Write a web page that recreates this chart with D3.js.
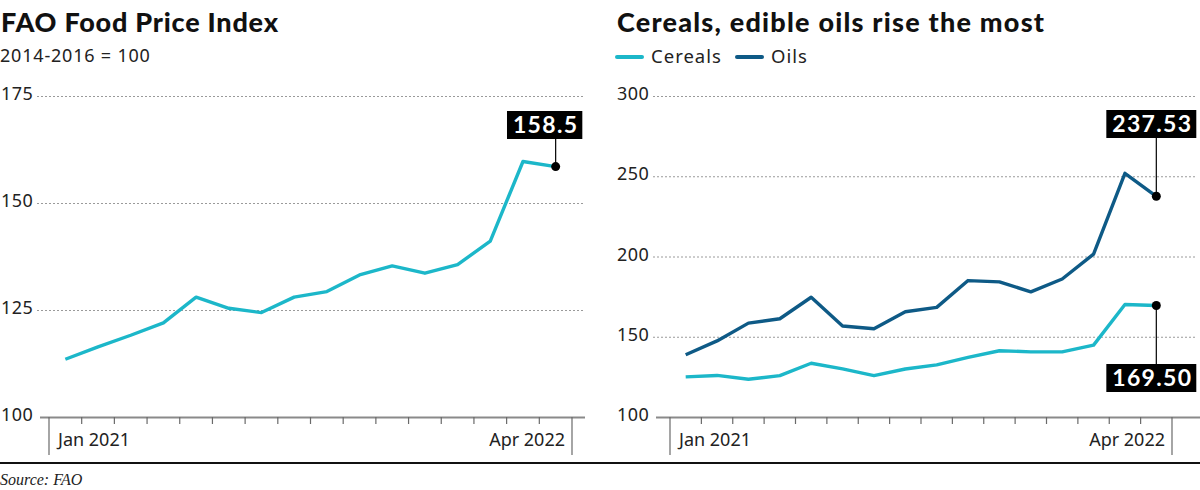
<!DOCTYPE html>
<html>
<head>
<meta charset="utf-8">
<script src="https://cdn.jsdelivr.net/npm/d3@7"></script>
<style>
  body { margin: 0; background: #fff; }
  svg { display: block; }
  .title { font-family: Lato, sans-serif; font-weight: 900; font-size: 27px; fill: #111; }
  .sub { font-family: "Noto Sans", sans-serif; font-size: 18px; fill: #222; letter-spacing: 0.8px; }
  .legend { font-family: "Noto Sans", sans-serif; font-size: 18.5px; fill: #222; letter-spacing: 1px; }
  .ylab { font-family: "Noto Sans", sans-serif; font-size: 18px; fill: #222; letter-spacing: 0.5px; }
  .xlab { font-family: "Noto Sans", sans-serif; font-size: 18px; fill: #222; }
  .grid { stroke: #9a9a9a; stroke-width: 1; stroke-dasharray: 2,2; }
  .callout { font-family: Lato, sans-serif; font-weight: 700; font-size: 23px; fill: #fff; letter-spacing: 1.3px; }
  .source { font-family: "Liberation Serif", serif; font-style: italic; font-size: 16px; fill: #222; }
</style>
</head>
<body>
<div id="content"></div>
<script>
/*
    Chart data
*/
var months = ["Jan 2021", "Feb 2021", "Mar 2021", "Apr 2021", "May 2021", "Jun 2021",
              "Jul 2021", "Aug 2021", "Sep 2021", "Oct 2021", "Nov 2021", "Dec 2021",
              "Jan 2022", "Feb 2022", "Mar 2022", "Apr 2022"];
var foodIndex = [113.5, 116.4, 119.1, 122.0, 128.0, 125.4, 124.4, 128.0, 129.3, 133.2,
                 135.3, 133.6, 135.6, 141.1, 159.7, 158.5];
var cereals = [125.0, 125.9, 123.5, 125.8, 133.5, 130.0, 125.8, 129.9, 132.5, 137.1,
               141.3, 140.6, 140.6, 144.8, 170.1, 169.5];
var oils = [138.8, 147.4, 158.5, 161.2, 174.6, 156.7, 155.0, 165.6, 168.3, 185.0,
            184.2, 178.0, 186.0, 201.5, 251.8, 237.53];
var leftTicks = [100, 125, 150, 175];
var rightTicks = [100, 150, 200, 250, 300];
var edgeLabels = ["Jan 2021", "Apr 2022"];

var cyan = "#1cb7c9",
    navy = "#0e5a86";

var W = 1200, H = 490;
var svg = d3.select("#content").append("svg")
    .attr("width", W)
    .attr("height", H);

/*
    One panel: y grid, x axis with month ticks, lines and callouts
*/
function drawPanel(p) {
    var x = d3.scaleBand().domain(months).range(p.xRange).padding(0);
    var y = d3.scaleLinear().domain(p.yDomain).range([417, 96]);
    var g = svg.append("g");

    // grid + labels
    p.yTicks.forEach(function (t) {
        if (t != p.yDomain[0]) {
            g.append("line").attr("class", "grid")
                .attr("x1", p.gridX[0]).attr("x2", p.gridX[1])
                .attr("y1", y(t) + 0.5).attr("y2", y(t) + 0.5);
        }
        g.append("text").attr("class", "ylab")
            .attr("x", p.labelX).attr("y", y(t) + 4)
            .text(t);
    });

    // x axis baseline
    g.append("line")
        .attr("x1", p.gridX[0] + 3).attr("x2", p.axisEnd)
        .attr("y1", y(p.yDomain[0]) + 0.5).attr("y2", y(p.yDomain[0]) + 0.5)
        .attr("stroke", "#8a8a8a").attr("stroke-width", 2);

    var bounds = months.map(function (m) { return x(m); }).concat([p.xRange[1]]);
    g.selectAll(".tk").data(bounds).enter().append("line")
        .attr("x1", function (d) { return d; })
        .attr("x2", function (d) { return d; })
        .attr("y1", 417)
        .attr("y2", function (d, i) { return (i == 0 || i == bounds.length - 1) ? 455 : 424; })
        .attr("stroke", "#6a6a6a").attr("stroke-width", 1.2);

    g.append("text").attr("class", "xlab")
        .attr("x", p.xRange[0] + 9).attr("y", 446)
        .text(edgeLabels[0]);
    g.append("text").attr("class", "xlab")
        .attr("x", p.xRange[1] - 7).attr("y", 446)
        .attr("text-anchor", "end")
        .text(edgeLabels[1]);

    var cx = function (d, i) { return x(months[i]) + x.bandwidth() / 2; };
    var line = d3.line()
        .x(cx)
        .y(function (d) { return y(d); });

    p.series.forEach(function (s) {
        g.append("path").datum(s.values)
            .attr("fill", "none")
            .attr("stroke", s.color)
            .attr("stroke-width", 3.4)
            .attr("stroke-linejoin", "round")
            .attr("d", line);
    });

    // callouts at the last point
    p.callouts.forEach(function (c) {
        var last = c.values.length - 1;
        var px = cx(c.values[last], last), py = y(c.values[last]);
        var box = g.append("rect").attr("fill", "#000");
        var t = g.append("text").attr("class", "callout")
            .attr("text-anchor", "middle")
            .attr("x", px + c.dx)
            .attr("y", c.boxY + 22)
            .text(c.label);
        var bb = t.node().getBBox();
        box.attr("x", bb.x - 6).attr("width", bb.width + 10)
            .attr("y", c.boxY).attr("height", 28);
        var yEnd = c.boxY > py ? c.boxY : c.boxY + 28;
        g.append("line")
            .attr("x1", px).attr("x2", px)
            .attr("y1", py).attr("y2", yEnd)
            .attr("stroke", "#000").attr("stroke-width", 1.2);
        g.append("circle").attr("cx", px).attr("cy", py).attr("r", 4.5).attr("fill", "#000");
    });
}

/*
    Titles and legend
*/
svg.append("text").attr("class", "title").attr("x", 1).attr("y", 32)
    .attr("textLength", 277).attr("lengthAdjust", "spacing")
    .text("FAO Food Price Index");
svg.append("text").attr("class", "sub").attr("x", 0).attr("y", 62).text("2014-2016 = 100");
svg.append("text").attr("class", "title").attr("x", 617).attr("y", 32)
    .attr("textLength", 427).attr("lengthAdjust", "spacing")
    .text("Cereals, edible oils rise the most");

var legend = [{ name: "Cereals", color: cyan, x: 617 }, { name: "Oils", color: navy, x: 737 }];
legend.forEach(function (l) {
    svg.append("line").attr("x1", l.x).attr("x2", l.x + 25)
        .attr("y1", 57).attr("y2", 57)
        .attr("stroke", l.color).attr("stroke-width", 4).attr("stroke-linecap", "round");
    svg.append("text").attr("class", "legend").attr("x", l.x + 34).attr("y", 63).text(l.name);
});

drawPanel({
    xRange: [49, 572],
    yDomain: [100, 175],
    yTicks: leftTicks,
    gridX: [37, 585],
    axisEnd: 585,
    labelX: 1,
    series: [{ values: foodIndex, color: cyan }],
    callouts: [{ values: foodIndex, label: "158.5", dx: -10, boxY: 111 }]
});

drawPanel({
    xRange: [670, 1172],
    yDomain: [100, 300],
    yTicks: rightTicks,
    gridX: [653, 1196],
    axisEnd: 1200,
    labelX: 617,
    series: [{ values: cereals, color: cyan }, { values: oils, color: navy }],
    callouts: [
        { values: oils, label: "237.53", dx: -4, boxY: 110 },
        { values: cereals, label: "169.50", dx: -4, boxY: 364 }
    ]
});

/*
    Footer
*/
svg.append("rect").attr("x", 0).attr("y", 462).attr("width", W).attr("height", 2).attr("fill", "#111");
svg.append("text").attr("class", "source").attr("x", 0).attr("y", 485).text("Source: FAO");
</script>
</body>
</html>
